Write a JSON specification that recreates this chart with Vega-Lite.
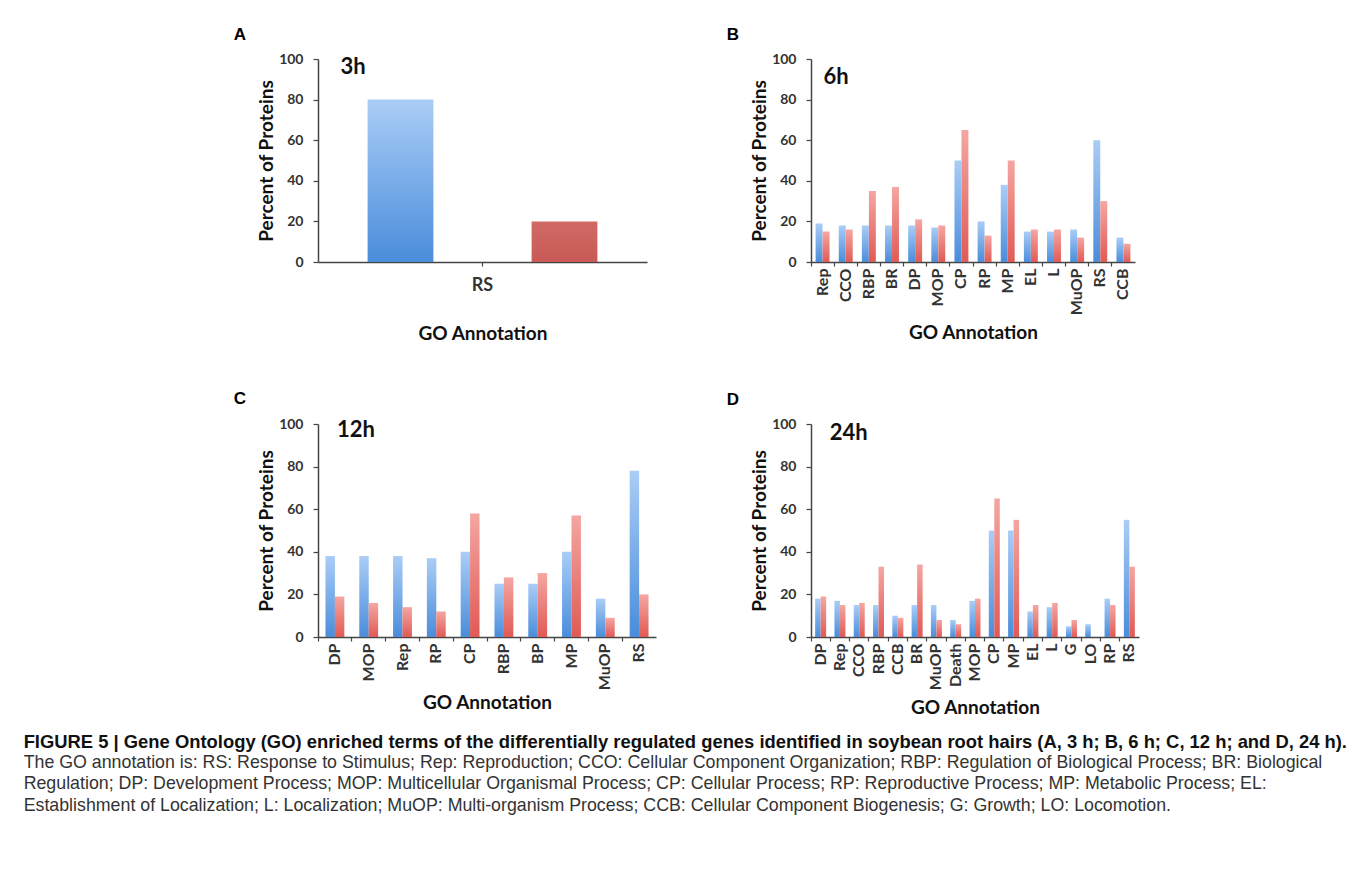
{
  "$schema": "https://vega.github.io/schema/vega-lite/v6.json",
  "padding": {"left": 23, "top": 26, "right": 8, "bottom": 8},
  "background": "white",
  "datasets": {
    "a": [
      {"term": "RS", "series": "Series 1", "value": 80},
      {"term": "RS", "series": "Series 2", "value": 20}
    ],
    "b": [
      {"term": "Rep", "series": "Series 1", "value": 19}, {"term": "Rep", "series": "Series 2", "value": 15},
      {"term": "CCO", "series": "Series 1", "value": 18}, {"term": "CCO", "series": "Series 2", "value": 16},
      {"term": "RBP", "series": "Series 1", "value": 18}, {"term": "RBP", "series": "Series 2", "value": 35},
      {"term": "BR", "series": "Series 1", "value": 18}, {"term": "BR", "series": "Series 2", "value": 37},
      {"term": "DP", "series": "Series 1", "value": 18}, {"term": "DP", "series": "Series 2", "value": 21},
      {"term": "MOP", "series": "Series 1", "value": 17}, {"term": "MOP", "series": "Series 2", "value": 18},
      {"term": "CP", "series": "Series 1", "value": 50}, {"term": "CP", "series": "Series 2", "value": 65},
      {"term": "RP", "series": "Series 1", "value": 20}, {"term": "RP", "series": "Series 2", "value": 13},
      {"term": "MP", "series": "Series 1", "value": 38}, {"term": "MP", "series": "Series 2", "value": 50},
      {"term": "EL", "series": "Series 1", "value": 15}, {"term": "EL", "series": "Series 2", "value": 16},
      {"term": "L", "series": "Series 1", "value": 15}, {"term": "L", "series": "Series 2", "value": 16},
      {"term": "MuOP", "series": "Series 1", "value": 16}, {"term": "MuOP", "series": "Series 2", "value": 12},
      {"term": "RS", "series": "Series 1", "value": 60}, {"term": "RS", "series": "Series 2", "value": 30},
      {"term": "CCB", "series": "Series 1", "value": 12}, {"term": "CCB", "series": "Series 2", "value": 9}
    ],
    "c": [
      {"term": "DP", "series": "Series 1", "value": 38}, {"term": "DP", "series": "Series 2", "value": 19},
      {"term": "MOP", "series": "Series 1", "value": 38}, {"term": "MOP", "series": "Series 2", "value": 16},
      {"term": "Rep", "series": "Series 1", "value": 38}, {"term": "Rep", "series": "Series 2", "value": 14},
      {"term": "RP", "series": "Series 1", "value": 37}, {"term": "RP", "series": "Series 2", "value": 12},
      {"term": "CP", "series": "Series 1", "value": 40}, {"term": "CP", "series": "Series 2", "value": 58},
      {"term": "RBP", "series": "Series 1", "value": 25}, {"term": "RBP", "series": "Series 2", "value": 28},
      {"term": "BP", "series": "Series 1", "value": 25}, {"term": "BP", "series": "Series 2", "value": 30},
      {"term": "MP", "series": "Series 1", "value": 40}, {"term": "MP", "series": "Series 2", "value": 57},
      {"term": "MuOP", "series": "Series 1", "value": 18}, {"term": "MuOP", "series": "Series 2", "value": 9},
      {"term": "RS", "series": "Series 1", "value": 78}, {"term": "RS", "series": "Series 2", "value": 20}
    ],
    "d": [
      {"term": "DP", "series": "Series 1", "value": 18}, {"term": "DP", "series": "Series 2", "value": 19},
      {"term": "Rep", "series": "Series 1", "value": 17}, {"term": "Rep", "series": "Series 2", "value": 15},
      {"term": "CCO", "series": "Series 1", "value": 15}, {"term": "CCO", "series": "Series 2", "value": 16},
      {"term": "RBP", "series": "Series 1", "value": 15}, {"term": "RBP", "series": "Series 2", "value": 33},
      {"term": "CCB", "series": "Series 1", "value": 10}, {"term": "CCB", "series": "Series 2", "value": 9},
      {"term": "BR", "series": "Series 1", "value": 15}, {"term": "BR", "series": "Series 2", "value": 34},
      {"term": "MuOP", "series": "Series 1", "value": 15}, {"term": "MuOP", "series": "Series 2", "value": 8},
      {"term": "Death", "series": "Series 1", "value": 8}, {"term": "Death", "series": "Series 2", "value": 6},
      {"term": "MOP", "series": "Series 1", "value": 17}, {"term": "MOP", "series": "Series 2", "value": 18},
      {"term": "CP", "series": "Series 1", "value": 50}, {"term": "CP", "series": "Series 2", "value": 65},
      {"term": "MP", "series": "Series 1", "value": 50}, {"term": "MP", "series": "Series 2", "value": 55},
      {"term": "EL", "series": "Series 1", "value": 12}, {"term": "EL", "series": "Series 2", "value": 15},
      {"term": "L", "series": "Series 1", "value": 14}, {"term": "L", "series": "Series 2", "value": 16},
      {"term": "G", "series": "Series 1", "value": 5}, {"term": "G", "series": "Series 2", "value": 8},
      {"term": "LO", "series": "Series 1", "value": 6}, {"term": "LO", "series": "Series 2", "value": 0},
      {"term": "RP", "series": "Series 1", "value": 18}, {"term": "RP", "series": "Series 2", "value": 15},
      {"term": "RS", "series": "Series 1", "value": 55}, {"term": "RS", "series": "Series 2", "value": 33}
    ]
  },
  "title": {
    "text": "FIGURE 5 | Gene Ontology (GO) enriched terms of the differentially regulated genes identified in soybean root hairs (A, 3 h; B, 6 h; C, 12 h; and D, 24 h).",
    "subtitle": [
      "The GO annotation is: RS: Response to Stimulus; Rep: Reproduction; CCO: Cellular Component Organization; RBP: Regulation of Biological Process; BR: Biological",
      "Regulation; DP: Development Process; MOP: Multicellular Organismal Process; CP: Cellular Process; RP: Reproductive Process; MP: Metabolic Process; EL:",
      "Establishment of Localization; L: Localization; MuOP: Multi-organism Process; CCB: Cellular Component Biogenesis; G: Growth; LO: Locomotion."
    ],
    "orient": "bottom",
    "anchor": "start",
    "frame": "bounds",
    "dx": -210,
    "offset": 15,
    "font": "Liberation Sans",
    "fontSize": 18.4,
    "fontWeight": "bold",
    "color": "#111",
    "subtitleFont": "Liberation Sans",
    "subtitleFontSize": 17.8,
    "subtitleColor": "#333",
    "subtitleLineHeight": 21.4,
    "subtitlePadding": 3
  },
  "spacing": 47,
  "vconcat": [
    {
      "spacing": 79,
      "hconcat": [
        {
          "width": 329, "height": 203,
          "title": {"text": "A", "offset": 8, "dx": -24},
          "data": {"name": "a"},
          "encoding": {
            "x": {"field": "term", "type": "nominal", "sort": null, "scale": {"type": "band", "paddingInner": 0, "paddingOuter": 0},
              "axis": {"title": "GO Annotation", "labelAngle": 0, "labelFontSize": 18, "labelPadding": 10, "titlePadding": 30, "tickSize": 4}},
            "y": {"field": "value", "type": "quantitative", "scale": {"domain": [0, 100], "nice": false},
              "axis": {"title": "Percent of Proteins", "values": [0, 20, 40, 60, 80, 100]}}
          },
          "layer": [
            {"transform": [{"filter": "datum.series === 'Series 1'"}],
             "mark": {"type": "bar", "width": {"band": 0.2}, "xOffset": -82, "color": {"gradient": "linear", "x1": 0, "y1": 0, "x2": 0, "y2": 1, "stops": [{"offset": 0, "color": "#aacdf6"}, {"offset": 1, "color": "#4a8ddb"}]}}},
            {"transform": [{"filter": "datum.series === 'Series 2'"}],
             "mark": {"type": "bar", "width": {"band": 0.2}, "xOffset": 82, "color": {"gradient": "linear", "x1": 0, "y1": 0, "x2": 0, "y2": 1, "stops": [{"offset": 0, "color": "#d06a66"}, {"offset": 1, "color": "#c95a55"}]}}},
            {"data": {"values": [{"term": "RS", "value": 96, "label": "3h"}]},
             "mark": {"type": "text", "align": "left", "baseline": "middle", "dx": -142, "fontSize": 22, "fontWeight": "bold", "font": "Lato", "color": "#111"},
             "encoding": {"text": {"field": "label"}}}
          ]
        },
        {
          "width": 324, "height": 203,
          "title": {"text": "B", "offset": 8, "dx": -24},
          "data": {"name": "b"},
          "encoding": {
            "x": {"field": "term", "type": "nominal", "sort": null, "scale": {"type": "band", "paddingInner": 0, "paddingOuter": 0},
              "axis": {"title": "GO Annotation", "labelAngle": -90, "labelFontSize": 16, "labelPadding": 2, "titlePadding": 9, "tickSize": 4, "bandPosition": 0}},
            "y": {"field": "value", "type": "quantitative", "scale": {"domain": [0, 100], "nice": false},
              "axis": {"title": "Percent of Proteins", "values": [0, 20, 40, 60, 80, 100]}}
          },
          "layer": [
            {"transform": [{"filter": "datum.series === 'Series 1'"}],
             "mark": {"type": "bar", "width": {"band": 0.3}, "xOffset": -3.5, "color": {"gradient": "linear", "x1": 0, "y1": 0, "x2": 0, "y2": 1, "stops": [{"offset": 0, "color": "#aacdf6"}, {"offset": 1, "color": "#4a8ddb"}]}}},
            {"transform": [{"filter": "datum.series === 'Series 2'"}],
             "mark": {"type": "bar", "width": {"band": 0.3}, "xOffset": 3.5, "color": {"gradient": "linear", "x1": 0, "y1": 0, "x2": 0, "y2": 1, "stops": [{"offset": 0, "color": "#f5a6a2"}, {"offset": 1, "color": "#e05a55"}]}}},
            {"data": {"values": [{"term": "Rep", "value": 91, "label": "6h"}]},
             "mark": {"type": "text", "align": "left", "baseline": "middle", "dx": 1, "fontSize": 22, "fontWeight": "bold", "font": "Lato", "color": "#111"},
             "encoding": {"text": {"field": "label"}}}
          ]
        }
      ]
    },
    {
      "spacing": 70,
      "hconcat": [
        {
          "width": 338, "height": 213,
          "title": {"text": "C", "offset": 9, "dx": -24},
          "data": {"name": "c"},
          "encoding": {
            "x": {"field": "term", "type": "nominal", "sort": null, "scale": {"type": "band", "paddingInner": 0, "paddingOuter": 0},
              "axis": {"title": "GO Annotation", "labelAngle": -90, "labelFontSize": 16, "labelPadding": 2, "titlePadding": 4, "tickSize": 4, "bandPosition": 0}},
            "y": {"field": "value", "type": "quantitative", "scale": {"domain": [0, 100], "nice": false},
              "axis": {"title": "Percent of Proteins", "values": [0, 20, 40, 60, 80, 100]}}
          },
          "layer": [
            {"transform": [{"filter": "datum.series === 'Series 1'"}],
             "mark": {"type": "bar", "width": {"band": 0.28}, "xOffset": -4.7, "color": {"gradient": "linear", "x1": 0, "y1": 0, "x2": 0, "y2": 1, "stops": [{"offset": 0, "color": "#aacdf6"}, {"offset": 1, "color": "#4a8ddb"}]}}},
            {"transform": [{"filter": "datum.series === 'Series 2'"}],
             "mark": {"type": "bar", "width": {"band": 0.28}, "xOffset": 4.7, "color": {"gradient": "linear", "x1": 0, "y1": 0, "x2": 0, "y2": 1, "stops": [{"offset": 0, "color": "#f5a6a2"}, {"offset": 1, "color": "#e05a55"}]}}},
            {"data": {"values": [{"term": "DP", "value": 97, "label": "12h"}]},
             "mark": {"type": "text", "align": "left", "baseline": "middle", "dx": 2, "fontSize": 22, "fontWeight": "bold", "font": "Lato", "color": "#111"},
             "encoding": {"text": {"field": "label"}}}
          ]
        },
        {
          "width": 328, "height": 213,
          "title": {"text": "D", "offset": 8, "dx": -24},
          "data": {"name": "d"},
          "encoding": {
            "x": {"field": "term", "type": "nominal", "sort": null, "scale": {"type": "band", "paddingInner": 0, "paddingOuter": 0},
              "axis": {"title": "GO Annotation", "labelAngle": -90, "labelFontSize": 16, "labelPadding": 2, "titlePadding": 9, "tickSize": 4, "bandPosition": 0}},
            "y": {"field": "value", "type": "quantitative", "scale": {"domain": [0, 100], "nice": false},
              "axis": {"title": "Percent of Proteins", "values": [0, 20, 40, 60, 80, 100]}}
          },
          "layer": [
            {"transform": [{"filter": "datum.series === 'Series 1'"}],
             "mark": {"type": "bar", "width": {"band": 0.285}, "xOffset": -2.75, "color": {"gradient": "linear", "x1": 0, "y1": 0, "x2": 0, "y2": 1, "stops": [{"offset": 0, "color": "#aacdf6"}, {"offset": 1, "color": "#4a8ddb"}]}}},
            {"transform": [{"filter": "datum.series === 'Series 2'"}],
             "mark": {"type": "bar", "width": {"band": 0.285}, "xOffset": 2.75, "color": {"gradient": "linear", "x1": 0, "y1": 0, "x2": 0, "y2": 1, "stops": [{"offset": 0, "color": "#f5a6a2"}, {"offset": 1, "color": "#e05a55"}]}}},
            {"data": {"values": [{"term": "DP", "value": 96, "label": "24h"}]},
             "mark": {"type": "text", "align": "left", "baseline": "middle", "dx": 9, "fontSize": 22, "fontWeight": "bold", "font": "Lato", "color": "#111"},
             "encoding": {"text": {"field": "label"}}}
          ]
        }
      ]
    }
  ],
  "config": {
    "font": "Lato",
    "view": {"stroke": null},
    "title": {"font": "Liberation Sans", "fontSize": 17, "fontWeight": "bold", "color": "#000", "anchor": "start", "frame": "bounds"},
    "axis": {
      "grid": false,
      "labelFont": "Lato", "labelFontWeight": "bold", "labelColor": "#333",
      "titleFont": "Lato", "titleFontWeight": "bold", "titleColor": "#111", "titleFontSize": 19,
      "domainColor": "#444", "domainWidth": 1.5, "tickColor": "#444", "tickWidth": 1.2
    },
    "axisY": {"labelFontSize": 14, "labelPadding": 10, "tickSize": 5, "titlePadding": 2}
  }
}
